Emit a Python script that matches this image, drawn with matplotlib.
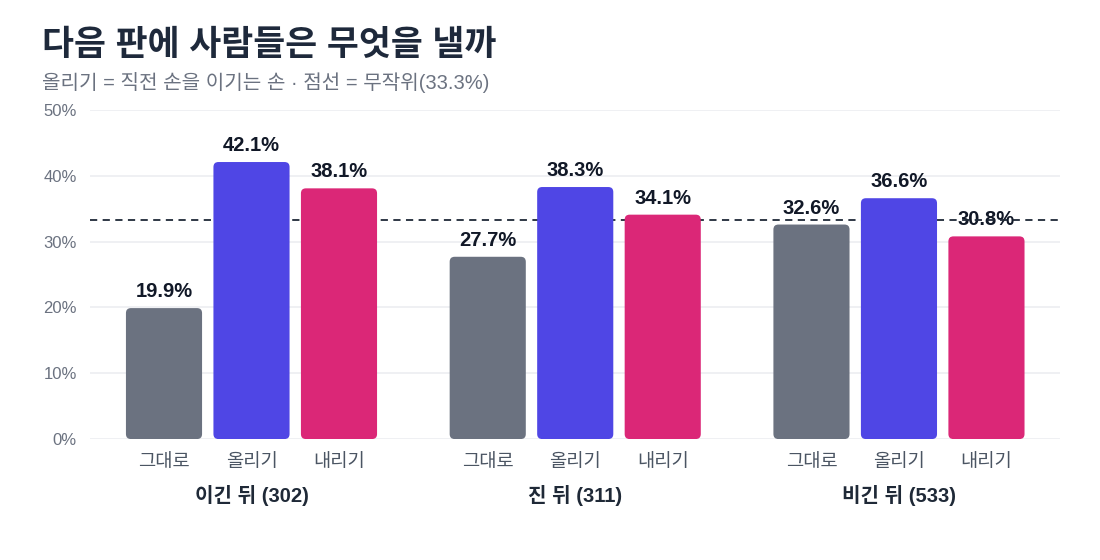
import numpy as np
import matplotlib
matplotlib.use("Agg")
import matplotlib.pyplot as plt
from matplotlib.patches import FancyBboxPatch
import matplotlib.transforms as mtransforms

plt.rcParams['font.family'] = ['Liberation Sans', 'Noto Sans CJK KR', 'DejaVu Sans']

# data
groups = ['이긴 뒤 (302)', '진 뒤 (311)', '비긴 뒤 (533)']
moves = ['그대로', '올리기', '내리기']
stay = [19.9, 27.7, 32.6]
up = [42.1, 38.3, 36.6]
down = [38.1, 34.1, 30.8]
random_line = 33.3
bar_colors = ['#6b7280', '#4f46e5', '#db2777']

fig = plt.figure(figsize=(11, 5.6), dpi=100)
ax = fig.add_axes([0.0818, 0.216, 0.8818, 0.5875])

group_gap = 3.7
width = 0.87
series = [stay, up, down]
r = 0.057
aspect = (1 / 6.58) / (1 / 87.5)

for i, vals in enumerate(series):
    xs = np.arange(len(groups)) * group_gap + i
    bars = ax.bar(xs, vals, width=width, color=bar_colors[i], zorder=4)
    for b, v in zip(bars, vals):
        x0, y0 = b.get_x(), b.get_y()
        w, h = b.get_width(), b.get_height()
        b.set_visible(False)
        p = FancyBboxPatch((x0, y0), w, h,
                           boxstyle=f"round,pad=0,rounding_size={r}",
                           mutation_aspect=aspect,
                           facecolor=bar_colors[i], edgecolor='none', zorder=4)
        ax.add_patch(p)
        ax.annotate(f"{v:.1f}%", (b.get_x() + w / 2, v), xytext=(0, 5),
                    textcoords='offset points', ha='center', va='bottom',
                    fontsize=14.5, fontweight='bold', color='#111827', zorder=2)

ax.axhline(random_line, color='#1f2937', linestyle=(0, (4, 3)), linewidth=1.3, zorder=3)

ax.set_ylim(0, 50)
ax.set_xlim(-0.846, 10.24)
ax.set_yticks(np.arange(0, 51, 10))
ax.set_yticklabels([f"{t}%" for t in range(0, 51, 10)])
ax.tick_params(axis='y', length=0, labelsize=12, labelcolor='#6b7280', pad=9.5)
ax.grid(axis='y', color='#eceef1', linewidth=1.2, zorder=0)
ax.set_axisbelow(True)
for s in ax.spines.values():
    s.set_visible(False)

xt = []
xl = []
for g in range(len(groups)):
    for i, m in enumerate(moves):
        xt.append(g * group_gap + i)
        xl.append(m)
ax.set_xticks(xt)
ax.set_xticklabels(xl)
ax.tick_params(axis='x', length=0, labelsize=13.5, labelcolor='#4b5563', pad=11)

trans = mtransforms.blended_transform_factory(ax.transData, ax.transAxes)
for g, name in enumerate(groups):
    ax.text(g * group_gap + 1, -0.171, name, transform=trans, ha='center', va='center',
            fontsize=14.5, fontweight='bold', color='#1f2937')

fig.text(0.038, 0.918, '다음 판에 사람들은 무엇을 낼까', fontsize=25, fontweight='bold',
         color='#1e293b', ha='left', va='center')
fig.text(0.038, 0.852, '올리기 = 직전 손을 이기는 손 · 점선 = 무작위(33.3%)', fontsize=14.5,
         color='#6b7280', ha='left', va='center')

fig.savefig('out.png', dpi=100, facecolor='white')
